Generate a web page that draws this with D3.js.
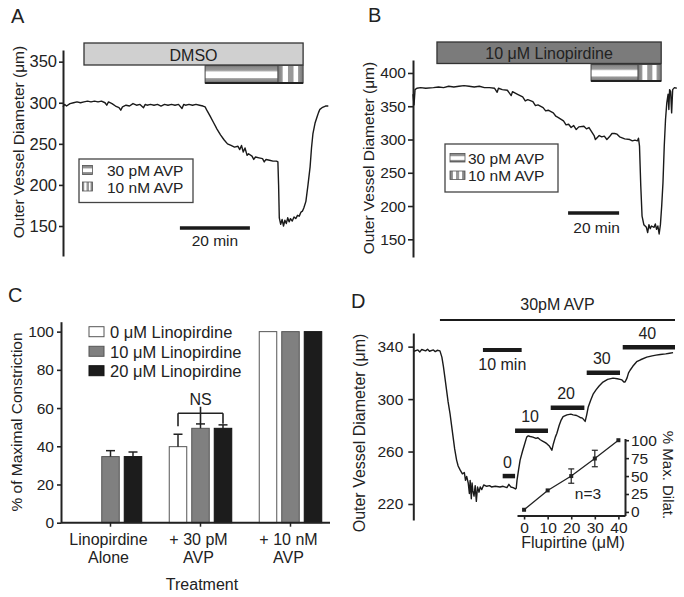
<!DOCTYPE html>
<html><head><meta charset="utf-8">
<script src="https://cdn.jsdelivr.net/npm/d3@7"></script>
<style>
body{margin:0;background:#fff;}
svg text{font-family:"Liberation Sans",Arial,Helvetica,sans-serif;fill:#222;}
</style></head><body>
<svg id="fig" width="684" height="597"></svg>
<script>
// ================= DATA =================
// Panel A : DMSO, time (min) vs outer diameter (µm)
const traceA = [[0,295],[0.5,298],[1,296],[2,299],[3,300],[4,301],[5,300],[6,301],[7,302],[8,301],[9,302],[10,301],[11,302],[12,300],[12.5,297],[13,301],[14,299],[15,296],[16,294],[16.5,291],[17,295],[18,297],[19,296],[20,299],[21,297],[22,298],[23,294],[23.5,298],[24,297],[25,298],[26,297],[27,298],[28,296],[29,298],[30,297],[31,298],[32,297],[33,298],[34,293],[34.5,298],[35,297],[36,298],[37,297],[38,298],[39,297],[40,296],[40.6,295],[41.2,290],[42,284],[43,276],[44,268],[45,261],[46,255],[47,250],[48,248],[49,246],[50,247],[50.5,243],[51,248],[51.5,240],[52,245],[52.6,236],[53,238],[54,235],[54.5,231],[55,234],[56,233],[57,232],[57.5,228],[58,231],[59,230],[60,229],[61,229],[61.4,228],[61.6,200],[61.8,160],[62.2,152],[62.6,158],[63,150],[63.4,157],[63.8,153],[64.2,160],[64.6,155],[65,159],[65.5,156],[66,161],[66.5,159],[67,163],[67.5,162],[68,167],[68.4,168],[68.8,172],[69.4,180],[70,200],[70.6,222],[71,245],[71.4,262],[72,275],[72.6,283],[73,288],[73.4,292],[74,294],[75,296],[75.8,296]];
const drugLabelA = "DMSO";
const drugTimeA = [6, 68.6];
const avpTimeA = [40.6, 61.4, 68.6];      // 30 pM start, 10 nM start, end
const scaleBarA = [33.4, 53.4];           // 20 min
const ticksA = [150, 200, 250, 300, 350];

// Panel B : 10 µM Linopirdine
const traceB = [[0,368],[0.4,352],[0.8,375],[1.5,377],[3,378],[5,377],[8,378],[10,379],[12,378],[14,380],[16,379],[18,380],[20,381],[22,380],[24,379],[26,380],[28,378],[30,378],[32,377],[33,371],[33.5,377],[35,375],[37,374],[38.5,366],[39,372],[41,368],[43,364],[44,358],[45,360],[47,357],[48,351],[49,352],[51,348],[52,343],[53,344],[55,340],[56,335],[57,333],[59,328],[60,322],[61,323],[62,318],[63,321],[64,315],[65,319],[67,320],[68,316],[69,318],[70,312],[71,306],[71.5,300],[72,302],[73,306],[74,304],[75,305],[76,300],[77,304],[78,309],[79,309],[80,308],[81,304],[83,301],[85,300],[86,298],[87,299],[88,298],[88.4,302],[88.8,290],[89.3,230],[89.8,185],[90.5,172],[91.5,168],[92,160],[92.5,172],[93,166],[93.5,170],[94.5,168],[95,173],[95.5,165],[96,170],[96.5,158],[97,172],[97.5,200],[98,235],[98.5,290],[99,330],[99.5,355],[100,368],[100.3,345],[100.6,375],[101,372],[101.4,340],[101.8,375],[102.5,378],[103.4,377]];
const drugLabelB = "10 \u03bcM Linopirdine";
const drugTimeB = [9.4, 97.3];
const avpTimeB = [69.8, 88.2, 97.3];
const scaleBarB = [60.8, 80.8];
const ticksB = [150, 200, 250, 300, 350, 400];

// Panel C : % of maximal constriction
const groupsC = ["Linopirdine|Alone", "+ 30 pM|AVP", "+ 10 nM|AVP"];
const seriesC = ["0 \u03bcM Linopirdine", "10 \u03bcM Linopirdine", "20 \u03bcM Linopirdine"];
const mean0 = [0, 39.8, 100];
const err0 = [0, 6.5, 0];
const mean10 = [34.6, 49.4, 100];
const err10 = [3.1, 2.3, 0];
const mean20 = [34.6, 49.4, 100];
const err20 = [2.4, 1.8, 0];
const ticksC = [0, 20, 40, 60, 80, 100];
const nsBracket = [57.3, 60.7, 50.5, 51.5, 51.8]; // bar level, mid top, left/mid/right leg ends

// Panel D : 30 pM AVP + flupirtine steps
const traceD = [[0,336.5],[1,337.5],[1.5,336],[2,337.8],[3,336.8],[3.5,338],[4,336.5],[5,337.5],[5.5,336.2],[6,337.2],[6.7,336.8],[7.2,332],[7.6,324.7],[8,316],[8.4,307],[8.8,298],[9.3,289],[9.7,280],[10.1,271],[10.5,262],[11,253.5],[11.4,249],[11.9,246],[12.5,243],[13,244],[13.3,238],[13.6,241],[14,236],[14.3,228],[14.5,238],[14.8,224],[15,236],[15.2,230],[15.5,226],[15.8,234],[16.1,222],[16.4,233],[16.8,229],[17.1,233],[17.5,231],[18,234.5],[18.8,233.5],[19.5,234],[20,233],[21,233.5],[22.2,233],[23,233.5],[24,232.5],[24.5,235],[25,233],[25.6,232.5],[26.2,231.5],[26.4,232],[26.6,238],[27,246],[27.4,253.5],[28,260],[28.5,265],[29.1,271],[29.5,272],[30,271.5],[30.7,271],[31.5,270],[32,270.5],[32.6,269],[33.2,268],[33.8,267],[34.3,266],[35,264],[35.6,261],[36,266],[36.5,271],[36.9,274],[37.5,280],[38,284],[38.5,286.6],[39.5,288],[40.5,288.5],[41.1,288],[42,287.5],[42.9,286],[43.5,285.5],[44.2,283],[44.6,288],[45,294],[45.6,299],[46.3,304],[47,307],[47.8,310],[48.8,313],[50,315],[51.4,316],[52.5,315.5],[53.2,315],[53.7,314.6],[54.2,313],[54.5,313],[55,316],[55.4,320],[55.8,322],[56.5,325],[57.5,328.5],[58.5,330],[60.1,332],[61.5,333],[62.5,333.5],[63.6,334],[65,334.5],[66,335],[66.9,335.4]];
const avpLineD = [6.7, 67.4];
const scaleBarD = [17.8, 27.8];          // 10 min
const scaleBarLevelD = 337.5;
const stepConc = ["0", "10", "20", "30", "40"];
const stepStart = [22.9, 26.1, 35.3, 44.6, 53.9];
const stepEnd = [26.1, 34.6, 44.0, 53.2, 67.4];
const stepLevel = [241.3, 275.9, 293.4, 320, 339.5];
const ticksD = [220, 260, 300, 340];

// Inset : % max dilation vs flupirtine
const flupConc = [0, 10, 20, 30, 40];
const dilMean = [3, 30, 50, 74.5, 100];
const dilErr = [1.5, 1, 10, 11.5, 0];
const insetXTicks = [0, 10, 20, 30, 40];
const insetYTicks = [0, 25, 50, 75, 100];

// ================= DRAW =================
const FONT = '"Liberation Sans", Arial, Helvetica, sans-serif';
const INK = "#222";
const svg = d3.select("#fig");

// gradients for AVP bars
const defs = svg.append("defs");
const hg = defs.append("linearGradient").attr("id","hgrad").attr("x1",0).attr("y1",0).attr("x2",0).attr("y2",1);
[[0,"#555"],[0.07,"#888"],[0.27,"#999"],[0.32,"#c4c4c4"],[0.38,"#fff"],[0.7,"#fff"],[0.75,"#9a9a9a"],[0.9,"#888"],[1,"#444"]]
  .forEach(s=>hg.append("stop").attr("offset",s[0]).attr("stop-color",s[1]));
const vg = defs.append("linearGradient").attr("id","vgrad").attr("x1",0).attr("y1",0).attr("x2",1).attr("y2",0);
[[0,"#777"],[0.17,"#999"],[0.21,"#fff"],[0.38,"#fff"],[0.42,"#999"],[0.6,"#999"],[0.64,"#fff"],[0.78,"#fff"],[0.82,"#999"],[1,"#777"]]
  .forEach(s=>vg.append("stop").attr("offset",s[0]).attr("stop-color",s[1]));

function styleAxis(ax, fs){
  ax.attr("font-family", FONT).attr("font-size", fs || 15).style("color", INK);
  ax.select(".domain").attr("stroke-width", 2);
  ax.selectAll(".tick line").attr("stroke-width", 1.6);
  return ax;
}
function yAxis(scale, ticks, x, size, pad, fs){
  return styleAxis(svg.append("g").attr("transform",`translate(${x},0)`)
    .call(d3.axisLeft(scale).tickValues(ticks).tickSize(size).tickSizeOuter(0).tickPadding(pad).tickFormat(d3.format("d"))), fs);
}
function label(x, y, t, fs, opts){
  const e = svg.append("text").attr("x",x).attr("y",y).attr("font-size",fs).text(t);
  if (opts && opts.anchor) e.attr("text-anchor", opts.anchor);
  if (opts && opts.central) e.attr("dominant-baseline","central");
  if (opts && opts.rot) e.attr("transform",`rotate(${opts.rot},${x},${y})`);
  return e;
}
function trace(data, xs, ys){
  svg.append("path").datum(data).attr("fill","none").attr("stroke","#1a1a1a").attr("stroke-width",1.4)
    .attr("stroke-linejoin","round")
    .attr("d", d3.line().x(d=>xs(d[0])).y(d=>ys(d[1])));
}
function treatBars(xs, drugT, drugLabel, drugFill, avpT, y0, h0, y1, h1, fsz){
  svg.append("rect").attr("x",xs(drugT[0])).attr("y",y0).attr("width",xs(drugT[1])-xs(drugT[0])).attr("height",h0)
    .attr("fill",drugFill).attr("stroke","#333").attr("stroke-width",1.3);
  label((xs(drugT[0])+xs(drugT[1]))/2, y0+h0/2+1, drugLabel, fsz, {anchor:"middle", central:true});
  svg.append("rect").attr("x",xs(avpT[0])).attr("y",y1).attr("width",xs(avpT[1])-xs(avpT[0])).attr("height",h1).attr("fill","url(#hgrad)");
  svg.append("rect").attr("x",xs(avpT[1])).attr("y",y1).attr("width",xs(avpT[2])-xs(avpT[1])).attr("height",h1).attr("fill","url(#vgrad)");
  svg.append("rect").attr("x",xs(avpT[0])).attr("y",y1).attr("width",xs(avpT[2])-xs(avpT[0])).attr("height",h1)
    .attr("fill","none").attr("stroke","#444").attr("stroke-width",1);
  svg.append("line").attr("x1",xs(avpT[1])).attr("x2",xs(avpT[1])).attr("y1",y1).attr("y2",y1+h1).attr("stroke","#444").attr("stroke-width",1);
  svg.append("line").attr("x1",xs(avpT[0])).attr("x2",xs(avpT[2])).attr("y1",y1+h1).attr("y2",y1+h1).attr("stroke","#222").attr("stroke-width",2);
}
function avpLegend(bx, by, bw, bh, sx, sw, sh, sy1, sy2, tx, ty1, ty2){
  svg.append("rect").attr("x",bx).attr("y",by).attr("width",bw).attr("height",bh).attr("fill","#fff").attr("stroke","#444").attr("stroke-width",1.3);
  svg.append("rect").attr("x",sx).attr("y",sy1).attr("width",sw).attr("height",sh).attr("fill","url(#hgrad)").attr("stroke","#555").attr("stroke-width",0.8);
  svg.append("rect").attr("x",sx).attr("y",sy2).attr("width",sw).attr("height",sh).attr("fill","url(#vgrad)").attr("stroke","#555").attr("stroke-width",0.8);
  label(tx, ty1, "30 pM AVP", 15.5, {central:true});
  label(tx, ty2, "10 nM AVP", 15.5, {central:true});
}

// ---------- Panel A ----------
const xA = d3.scaleLinear().domain([0,76]).range([63,329]);
const yA = d3.scaleLinear().domain([113.5,364.2]).range([256,50]);
label(11, 23, "A", 20);
yAxis(yA, ticksA, 63, 4, 2, 16.5);
label(18, 142, "Outer Vessel Diameter (\u03bcm)", 15.5, {anchor:"middle", central:true, rot:-90});
treatBars(xA, drugTimeA, drugLabelA, "#d0d0d0", avpTimeA, 43, 22, 65.5, 17.5, 16);
trace(traceA, xA, yA);
svg.append("line").attr("x1",xA(scaleBarA[0])).attr("x2",xA(scaleBarA[1])).attr("y1",228).attr("y2",228).attr("stroke","#1a1a1a").attr("stroke-width",3.5);
label((xA(scaleBarA[0])+xA(scaleBarA[1]))/2, 246, "20 min", 15.5, {anchor:"middle"});
avpLegend(79, 159, 114, 43.5, 82.5, 10, 9, 165.5, 182, 107, 170, 187);

// ---------- Panel B ----------
const xB = d3.scaleLinear().domain([0,103.5]).range([413,677]);
const yB = d3.scaleLinear().domain([123.4,419.5]).range([257,60]);
label(368, 22, "B", 20);
yAxis(yB, ticksB, 413, 5, 2, 15.5);
label(368, 158, "Outer Vessel Diameter (\u03bcm)", 15.5, {anchor:"middle", central:true, rot:-90});
treatBars(xB, drugTimeB, drugLabelB, "#7b7b7b", avpTimeB, 42, 21.5, 64.5, 16.5, 16);
trace(traceB, xB, yB);
svg.append("line").attr("x1",xB(scaleBarB[0])).attr("x2",xB(scaleBarB[1])).attr("y1",213).attr("y2",213).attr("stroke","#1a1a1a").attr("stroke-width",3.5);
label((xB(scaleBarB[0])+xB(scaleBarB[1]))/2+3, 233, "20 min", 15.5, {anchor:"middle"});
avpLegend(445, 144, 113, 48, 450, 15, 8.5, 153.5, 171, 468, 158.5, 175.5);

// ---------- Panel C ----------
const yC = d3.scaleLinear().domain([0,105.2]).range([522.7,321.7]);
const xC = d3.scaleBand().domain(groupsC).range([65.5,335.5]).paddingInner(0).paddingOuter(0);
const xIn = d3.scaleBand().domain(seriesC).range([-31.25,31.25]).paddingInner(0.222);
label(8, 302, "C", 20);
yAxis(yC, ticksC, 61, 4, 3, 15.5);
label(16.5, 422, "% of Maximal Constriction", 15.5, {anchor:"middle", central:true, rot:-90});
const fillsC = ["#ffffff", "#808080", "#1c1c1c"];
const meansC = [mean0, mean10, mean20];
const errsC = [err0, err10, err20];
seriesC.forEach((s, si) => {
  groupsC.forEach((g, gi) => {
    const v = meansC[si][gi];
    if (!v) return;
    const x = xC(g) + xC.bandwidth()/2 + xIn(s);
    svg.append("rect").attr("x",x).attr("y",yC(v)).attr("width",xIn.bandwidth()).attr("height",yC(0)-yC(v))
      .attr("fill",fillsC[si]).attr("stroke", si===2 ? "#111" : "#555").attr("stroke-width",1);
    const e = errsC[si][gi];
    if (e) {
      const cx = x + xIn.bandwidth()/2;
      svg.append("line").attr("x1",cx).attr("x2",cx).attr("y1",yC(v)).attr("y2",yC(v+e)).attr("stroke",INK).attr("stroke-width",1.5);
      svg.append("line").attr("x1",cx-4.5).attr("x2",cx+4.5).attr("y1",yC(v+e)).attr("y2",yC(v+e)).attr("stroke",INK).attr("stroke-width",1.5);
    }
  });
});
// x axis baseline + ticks
svg.append("line").attr("x1",61).attr("x2",330).attr("y1",yC(0)).attr("y2",yC(0)).attr("stroke",INK).attr("stroke-width",2);
groupsC.forEach(g => {
  const cx = xC(g) + xC.bandwidth()/2;
  svg.append("line").attr("x1",cx).attr("x2",cx).attr("y1",yC(0)).attr("y2",yC(0)+4).attr("stroke",INK).attr("stroke-width",1.5);
  const parts = g.split("|");
  label(cx-2, 545, parts[0], 16, {anchor:"middle"});
  label(cx-2, 563, parts[1], 16, {anchor:"middle"});
});
label(202, 590, "Treatment", 16, {anchor:"middle"});
// NS bracket
{
  const g2 = groupsC[1];
  const base = xC(g2) + xC.bandwidth()/2;
  const lx = base + xIn(seriesC[0]) + xIn.bandwidth()/2;
  const mx = base + xIn(seriesC[1]) + xIn.bandwidth()/2;
  const rx = base + xIn(seriesC[2]) + xIn.bandwidth()/2;
  const ln = (x1,y1,x2,y2)=>svg.append("line").attr("x1",x1).attr("y1",y1).attr("x2",x2).attr("y2",y2).attr("stroke",INK).attr("stroke-width",1.6);
  ln(lx, yC(nsBracket[0]), rx, yC(nsBracket[0]));
  ln(lx, yC(nsBracket[0]), lx, yC(nsBracket[2]));
  ln(mx, yC(nsBracket[1]), mx, yC(nsBracket[3]));
  ln(rx, yC(nsBracket[0]), rx, yC(nsBracket[4]));
  label(mx, 405, "NS", 16, {anchor:"middle"});
}
// legend C
const legRows = [331.7, 351.3, 370.7];
seriesC.forEach((s, i) => {
  svg.append("rect").attr("x",89).attr("y",legRows[i]-5).attr("width",15).attr("height",10)
    .attr("fill",fillsC[i]).attr("stroke", i===2 ? "#111" : "#555").attr("stroke-width",1);
  label(110, legRows[i]+0.5, s, 16.5, {central:true});
});

// ---------- Panel D ----------
const xD = d3.scaleLinear().domain([0,67.4]).range([414,675]);
const yD = d3.scaleLinear().domain([207.8,350.4]).range([520,333]);
label(351, 308, "D", 20);
yAxis(yD, ticksD, 413.3, 5, 5, 15.5);
label(359.5, 433, "Outer Vessel Diameter (\u03bcm)", 16, {anchor:"middle", central:true, rot:-90});
svg.append("line").attr("x1",xD(avpLineD[0])).attr("x2",xD(avpLineD[1])).attr("y1",320).attr("y2",320).attr("stroke","#1a1a1a").attr("stroke-width",2.2);
label((xD(avpLineD[0])+xD(avpLineD[1]))/2, 310, "30pM AVP", 16, {anchor:"middle"});
trace(traceD, xD, yD);
// 10 min scale bar
svg.append("line").attr("x1",xD(scaleBarD[0])).attr("x2",xD(scaleBarD[1])).attr("y1",yD(scaleBarLevelD)).attr("y2",yD(scaleBarLevelD)).attr("stroke","#1a1a1a").attr("stroke-width",4);
label((xD(scaleBarD[0])+xD(scaleBarD[1]))/2, yD(scaleBarLevelD)+15, "10 min", 16, {anchor:"middle", central:true});
// concentration steps
stepConc.forEach((c, i) => {
  const x1 = xD(stepStart[i]), x2 = xD(stepEnd[i]), y = yD(stepLevel[i]);
  svg.append("line").attr("x1",x1).attr("x2",x2).attr("y1",y).attr("y2",y).attr("stroke","#1a1a1a").attr("stroke-width",4.5);
  label((x1+x2)/2 - 1.5, y - 14, c, 16, {anchor:"middle", central:true});
});

// ---------- Inset ----------
const xI = d3.scaleLinear().domain([-3,42.8]).range([517,625]);
const yI = d3.scaleLinear().domain([-5,102.4]).range([515.5,438.5]);
styleAxis(svg.append("g").attr("transform","translate(0,515.5)")
  .call(d3.axisBottom(xI).tickValues(insetXTicks).tickSize(4).tickSizeOuter(0).tickPadding(2)), 15.5);
styleAxis(svg.append("g").attr("transform","translate(625,0)")
  .call(d3.axisRight(yI).tickValues(insetYTicks).tickSize(4).tickSizeOuter(0).tickPadding(2)), 15.5);
const dilData = flupConc.map((c,i)=>[c, dilMean[i], dilErr[i]]);
svg.append("path").datum(dilData).attr("fill","none").attr("stroke",INK).attr("stroke-width",1.3)
  .attr("d", d3.line().x(d=>xI(d[0])).y(d=>yI(d[1])));
dilData.forEach(d => {
  if (d[2] > 2) {
    const cx = xI(d[0]);
    svg.append("line").attr("x1",cx).attr("x2",cx).attr("y1",yI(d[1]-d[2])).attr("y2",yI(d[1]+d[2])).attr("stroke",INK).attr("stroke-width",1.2);
    [d[1]-d[2], d[1]+d[2]].forEach(v => svg.append("line").attr("x1",cx-3).attr("x2",cx+3).attr("y1",yI(v)).attr("y2",yI(v)).attr("stroke",INK).attr("stroke-width",1.2));
  }
  svg.append("rect").attr("x",xI(d[0])-2).attr("y",yI(d[1])-2).attr("width",4).attr("height",4).attr("fill",INK);
});
label(588, 493, "n=3", 15.5, {anchor:"middle", central:true});
label(573, 548, "Flupirtine (\u03bcM)", 16, {anchor:"middle"});
label(668, 475, "% Max. Dilat.", 15, {anchor:"middle", central:true, rot:90});
</script>
</body></html>
